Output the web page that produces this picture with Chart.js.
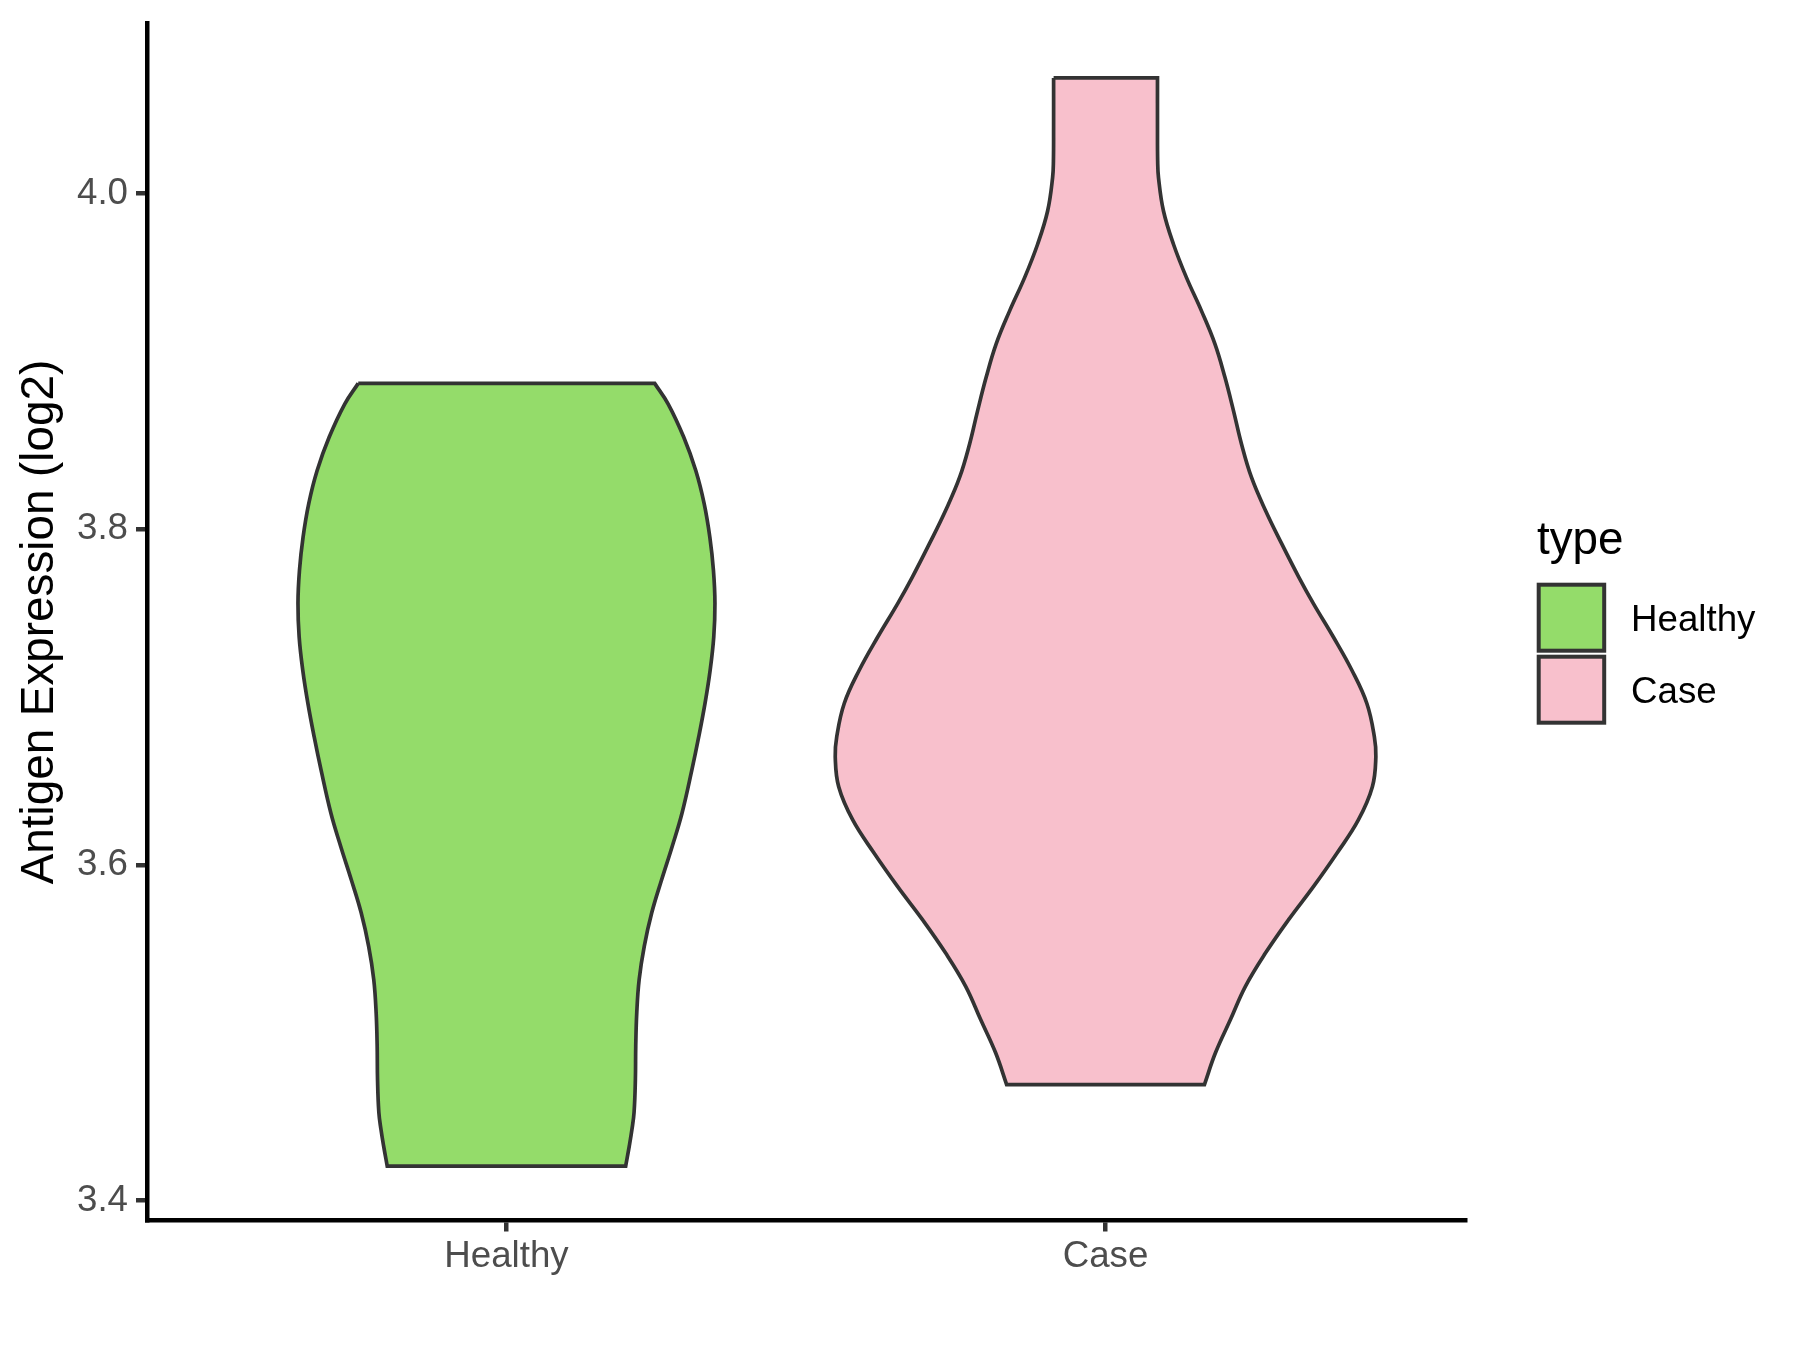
<!DOCTYPE html>
<html>
<head>
<meta charset="utf-8">
<script src="https://cdn.jsdelivr.net/npm/chart.js@4.4.1/dist/chart.umd.min.js"></script>
<style>
  html, body { margin: 0; padding: 0; background: #ffffff; }
  #wrap { width: 1800px; height: 1350px; }
</style>
</head>
<body>
<div id="wrap"><canvas id="violino" width="1800" height="1350"></canvas></div>
<script>
// categorias e ticks
const categories = ["Healthy", "Case"];
const yTicks = [3.4, 3.6, 3.8, 4.0];

// contorno: valor y (de cima para baixo) e meia largura
const healthyY = [3.8869, 3.8746, 3.8548, 3.8350, 3.8153, 3.7953, 3.7755, 3.7559, 3.7357, 3.7160,
  3.6964, 3.6764, 3.6566, 3.6308, 3.6109, 3.5912, 3.5715, 3.5515, 3.5317, 3.5119,
  3.4920, 3.4722, 3.4526, 3.4425, 3.4325, 3.4206];
const healthyHalfWidth = [0.2474, 0.2700, 0.2960, 0.3160, 0.3300, 0.3395, 0.3455, 0.3480, 0.3460, 0.3400,
  0.3315, 0.3210, 0.3095, 0.2930, 0.2765, 0.2590, 0.2425, 0.2300, 0.2215, 0.2175,
  0.2158, 0.2152, 0.2130, 0.2095, 0.2050, 0.1990];

const caseY = [4.0689, 4.0391, 4.0193, 4.0094, 3.9896, 3.9698, 3.9499, 3.9301, 3.9103, 3.8905,
  3.8707, 3.8508, 3.8310, 3.8112, 3.7914, 3.7715, 3.7557, 3.7358, 3.7160, 3.6962,
  3.6764, 3.6645, 3.6466, 3.6268, 3.6070, 3.5871, 3.5673, 3.5475, 3.5277, 3.5079,
  3.4881, 3.4692];
const caseHalfWidth = [0.0867, 0.0867, 0.0870, 0.0884, 0.0967, 0.1134, 0.1351, 0.1601, 0.1827, 0.1993,
  0.2135, 0.2269, 0.2435, 0.2670, 0.2940, 0.3225, 0.3470, 0.3803, 0.4112, 0.4362,
  0.4487, 0.4512, 0.4454, 0.4220, 0.3862, 0.3470, 0.3053, 0.2669, 0.2335, 0.2085,
  0.1835, 0.1651];

const fillColors = ["#94DC6A", "#F8C0CC"];
const outline = "#333333";

// monta o poligono do violino (cantos duplicados para manter os lados retos)
function contorno(pos, ys, hws) {
  const esq = ys.map((y, i) => ({ x: pos - hws[i], y }));
  const dir = ys.map((y, i) => ({ x: pos + hws[i], y })).reverse();
  const n = esq.length;
  return [esq[0]].concat(esq, [esq[n - 1]], [dir[0]], dir, [dir[n - 1]], [esq[0]]);
}

const datasets = [
  { label: categories[0], data: contorno(1, healthyY, healthyHalfWidth), backgroundColor: fillColors[0] },
  { label: categories[1], data: contorno(2, caseY, caseHalfWidth), backgroundColor: fillColors[1] }
].map(d => Object.assign(d, {
  showLine: true,
  fill: "shape",
  borderColor: outline,
  borderWidth: 3.7,
  pointRadius: 0,
  tension: 0.4
}));

// legenda no estilo do ggplot
const legendaTipo = {
  id: "legendaTipo",
  afterDraw(chart) {
    const ctx = chart.ctx;
    ctx.save();
    ctx.fillStyle = "#000000";
    ctx.font = "45.8px 'Liberation Sans', Arial, sans-serif";
    ctx.textBaseline = "alphabetic";
    ctx.textAlign = "left";
    ctx.fillText("type", 1537, 554);
    categories.forEach((c, i) => {
      const y0 = 584.7 + i * 72;
      ctx.fillStyle = fillColors[i];
      ctx.fillRect(1538.7, y0, 65.5, 66);
      ctx.strokeStyle = outline;
      ctx.lineWidth = 4;
      ctx.strokeRect(1538.7, y0, 65.5, 66);
      ctx.fillStyle = "#000000";
      ctx.font = "36.7px 'Liberation Sans', Arial, sans-serif";
      ctx.fillText(c, 1631, y0 + 46);
    });
    ctx.restore();
  }
};

new Chart(document.getElementById("violino").getContext("2d"), {
  type: "scatter",
  data: { datasets },
  plugins: [legendaTipo],
  options: {
    responsive: false,
    devicePixelRatio: 1,
    animation: false,
    layout: { padding: { left: 0, top: 23.5, right: 335, bottom: 0 } },
    plugins: {
      legend: { display: false },
      tooltip: { enabled: false }
    },
    scales: {
      x: {
        type: "linear",
        min: 0.4,
        max: 2.6,
        afterBuildTicks: s => { s.ticks = categories.map((c, i) => ({ value: i + 1 })); },
        afterFit: s => { s.height = 129.5; s.paddingLeft = 0; s.paddingRight = 0; },
        ticks: {
          callback: (v, i) => categories[i],
          autoSkip: false,
          maxRotation: 0,
          padding: 3.5,
          color: "#4D4D4D",
          font: { family: "'Liberation Sans', Arial, sans-serif", size: 36.7 }
        },
        grid: { drawOnChartArea: false, drawTicks: true, tickLength: 11, tickColor: outline, tickWidth: 4.5, lineWidth: 4.5 },
        border: { display: true, color: "#000000", width: 4.5 }
      },
      y: {
        type: "linear",
        min: 3.3882,
        max: 4.1013,
        afterBuildTicks: s => { s.ticks = yTicks.map(v => ({ value: v })); },
        afterFit: s => { s.width = 147; s.paddingTop = 0; s.paddingBottom = 0; },
        ticks: {
          callback: v => v.toFixed(1),
          padding: 8,
          color: "#4D4D4D",
          font: { family: "'Liberation Sans', Arial, sans-serif", size: 36.7 }
        },
        grid: { drawOnChartArea: false, drawTicks: true, tickLength: 11, tickColor: outline, tickWidth: 4.5, lineWidth: 4.5 },
        border: { display: true, color: "#000000", width: 4.5 },
        title: {
          display: true,
          text: "Antigen Expression (log2)",
          color: "#000000",
          padding: { top: 13, bottom: 0 },
          font: { family: "'Liberation Sans', Arial, sans-serif", size: 45.8 }
        }
      }
    }
  }
});
</script>
</body>
</html>
